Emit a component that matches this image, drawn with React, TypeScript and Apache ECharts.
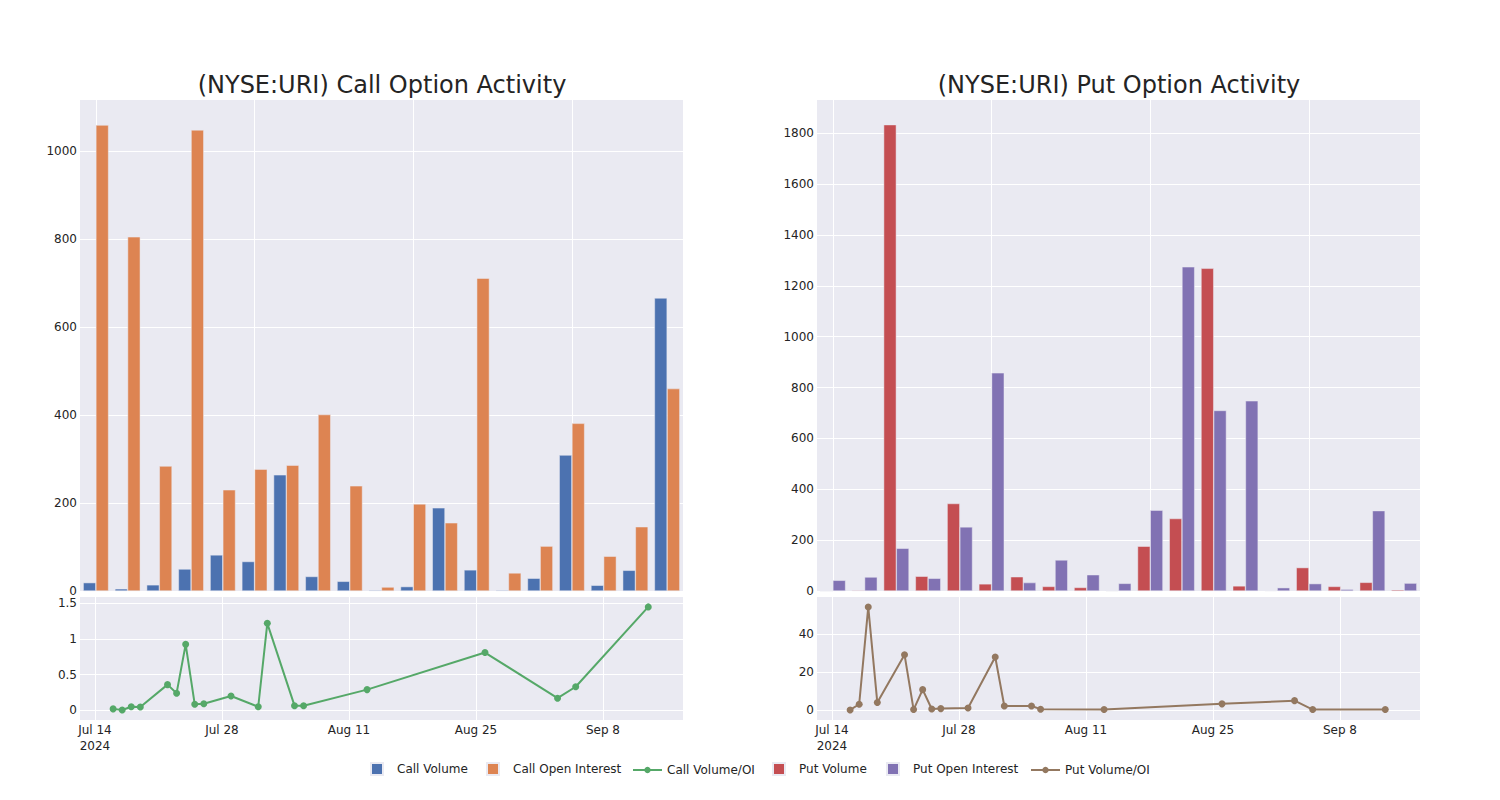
import React, { useEffect, useRef } from 'react';
import * as echarts from 'echarts';

const dates = ['2024-07-16', '2024-07-17', '2024-07-18', '2024-07-19', '2024-07-22', '2024-07-23', '2024-07-24', '2024-07-25', '2024-07-26', '2024-07-29', '2024-08-01', '2024-08-02', '2024-08-05', '2024-08-06', '2024-08-13', '2024-08-26', '2024-09-03', '2024-09-05', '2024-09-13'];
const callVolume = [19, 5, 14, 50, 82, 67, 264, 33, 22, 2, 10, 189, 48, 2, 29, 309, 13, 47, 666];
const callOpenInterest = [1059, 805, 284, 1048, 230, 277, 286, 401, 239, 9, 198, 155, 711, 41, 102, 381, 79, 146, 460];
const callVolOI = [0.02, 0.005, 0.05, 0.047, 0.36, 0.24, 0.925, 0.084, 0.093, 0.2, 0.05, 1.22, 0.065, 0.065, 0.29, 0.81, 0.17, 0.33, 1.45];
const putVolume = [0, 3, 1834, 58, 344, 28, 56, 18, 14, 1, 176, 285, 1269, 20, 2, 92, 18, 34, 5];
const putOpenInterest = [42, 55, 168, 50, 252, 858, 33, 122, 64, 30, 318, 1275, 710, 748, 13, 29, 7, 316, 31];
const putVolOI = [0, 3.0, 54.2, 3.9, 29.1, 0.2, 10.7, 0.5, 0.7, 1.0, 27.9, 2.1, 2.1, 0.4, 0.2, 3.2, 4.9, 0.2, 0.2];

const dateTicks = ['2024-07-14', '2024-07-28', '2024-08-11', '2024-08-25', '2024-09-08'];
const callBarTicks = [0, 200, 400, 600, 800, 1000];
const putBarTicks = [0, 200, 400, 600, 800, 1000, 1200, 1400, 1600, 1800];
const callRatioTicks = [0, 0.5, 1, 1.5];
const putRatioTicks = [0, 20, 40];

const ORIGIN = '2024-07-14';
const DAY = 86400000;
const dayOffset = (s: string) => (Date.parse(s) - Date.parse(ORIGIN)) / DAY;
const MONTHS = ['Jan', 'Feb', 'Mar', 'Apr', 'May', 'Jun', 'Jul', 'Aug', 'Sep', 'Oct', 'Nov', 'Dec'];

const FONT = 'DejaVu Sans';
const TEXT = '#242424';
const BG = '#EAEAF2';
const C_BLUE = '#4C72B0';
const C_ORANGE = '#DD8452';
const C_GREEN = '#55A868';
const C_RED = '#C44E52';
const C_PURPLE = '#8172B3';
const C_BROWN = '#937860';

function dateLabel(v: number) {
  const d = new Date(Date.parse(ORIGIN) + Math.round(v) * DAY);
  const s = MONTHS[d.getUTCMonth()] + ' ' + d.getUTCDate();
  return Math.round(v) === 0 ? s + '\n' + d.getUTCFullYear() : s;
}

export default function App() {
  const ref = useRef<HTMLDivElement>(null);
  useEffect(() => {
    document.body.style.margin = '0';
    if (!ref.current) return;
    const chart = echarts.init(ref.current, undefined, { renderer: 'svg' });

    const dayTicks = dateTicks.map(dayOffset);
    const xMin = -1.65;
    const xMax = 64.83;

    const grids = [
      { left: 80, top: 100, width: 603, height: 491 },
      { left: 80, top: 597, width: 603, height: 123 },
      { left: 817, top: 100, width: 603, height: 491 },
      { left: 817, top: 597, width: 603, height: 123 },
    ].map((g) => ({ ...g, backgroundColor: BG, show: true, borderWidth: 0 }));

    const catAxis = (gridIndex: number) => ({
      type: 'category',
      gridIndex,
      data: dates,
      axisLabel: { show: false },
      axisTick: { show: false, alignWithLabel: true },
      axisLine: { show: false },
      splitLine: { show: true, interval: 4, alignWithLabel: true, lineStyle: { color: '#ffffff', width: 1 } },
    });

    const dateAxis = (gridIndex: number) => ({
      type: 'value',
      gridIndex,
      min: xMin,
      max: xMax,
      axisLine: { show: false },
      axisTick: { show: false, customValues: dayTicks },
      axisLabel: {
        customValues: dayTicks,
        formatter: (v: number) => dateLabel(v),
        fontFamily: FONT,
        fontSize: 12,
        color: TEXT,
        margin: 2,
        lineHeight: 16,
      },
      splitLine: { show: true, lineStyle: { color: '#ffffff', width: 1 } },
    });

    const valAxis = (gridIndex: number, min: number, max: number, ticks: number[]) => ({
      type: 'value',
      gridIndex,
      min,
      max,
      axisLine: { show: false },
      axisTick: { show: false, customValues: ticks },
      axisLabel: {
        customValues: ticks,
        formatter: (v: number) => String(v),
        fontFamily: FONT,
        fontSize: 12,
        color: TEXT,
        margin: 3,
      },
      splitLine: { show: true, lineStyle: { color: '#ffffff', width: 1 } },
    });

    const barStyle = (color: string) => ({ color, borderColor: BG, borderWidth: 0.5 });

    const legendBase = {
      top: 762,
      padding: 0,
      orient: 'horizontal',
      selectedMode: false,
      itemGap: 0,
      textStyle: { fontFamily: FONT, fontSize: 12, color: TEXT },
    };
    const squareLegend = (name: string, left: number) => ({
      ...legendBase,
      left,
      itemWidth: 12,
      itemHeight: 12,
      data: [{ name, icon: 'rect' }],
      textStyle: { ...legendBase.textStyle, padding: [0, 0, 0, 9] },
    });
    const lineLegend = (name: string, left: number) => ({
      ...legendBase,
      top: 764,
      left,
      itemWidth: 29,
      itemHeight: 8,
      data: [{ name }],
    });

    const option: any = {
      animation: false,
      backgroundColor: '#ffffff',
      textStyle: { fontFamily: FONT },
      title: [
        {
          text: '(NYSE:URI) Call Option Activity',
          left: 377,
          top: 68,
          textAlign: 'center',
          textStyle: { fontFamily: FONT, fontSize: 24, fontWeight: 'normal', color: TEXT },
        },
        {
          text: '(NYSE:URI) Put Option Activity',
          left: 1114,
          top: 68,
          textAlign: 'center',
          textStyle: { fontFamily: FONT, fontSize: 24, fontWeight: 'normal', color: TEXT },
        },
      ],
      legend: [
        squareLegend('Call Volume', 370),
        squareLegend('Call Open Interest', 486),
        lineLegend('Call Volume/OI', 632),
        squareLegend('Put Volume', 772),
        squareLegend('Put Open Interest', 886),
        lineLegend('Put Volume/OI', 1030),
      ],
      grid: grids,
      xAxis: [catAxis(0), dateAxis(1), catAxis(2), dateAxis(3)],
      yAxis: [
        valAxis(0, 0, 1116, callBarTicks),
        valAxis(1, -0.136, 1.589, callRatioTicks),
        valAxis(2, 0, 1931, putBarTicks),
        valAxis(3, -5.3, 59.5, putRatioTicks),
      ],
      series: [
        {
          name: 'Call Volume',
          type: 'bar',
          xAxisIndex: 0,
          yAxisIndex: 0,
          data: callVolume,
          barGap: '0%',
          barCategoryGap: '20%',
          itemStyle: barStyle(C_BLUE),
        },
        {
          name: 'Call Open Interest',
          type: 'bar',
          xAxisIndex: 0,
          yAxisIndex: 0,
          data: callOpenInterest,
          barGap: '0%',
          barCategoryGap: '20%',
          itemStyle: barStyle(C_ORANGE),
        },
        {
          name: 'Call Volume/OI',
          type: 'line',
          xAxisIndex: 1,
          yAxisIndex: 1,
          data: dates.map((d, i) => [dayOffset(d), callVolOI[i]]),
          symbol: 'circle',
          symbolSize: 7,
          lineStyle: { color: C_GREEN, width: 2 },
          itemStyle: { color: C_GREEN },
        },
        {
          name: 'Put Volume',
          type: 'bar',
          xAxisIndex: 2,
          yAxisIndex: 2,
          data: putVolume,
          barGap: '0%',
          barCategoryGap: '20%',
          itemStyle: barStyle(C_RED),
        },
        {
          name: 'Put Open Interest',
          type: 'bar',
          xAxisIndex: 2,
          yAxisIndex: 2,
          data: putOpenInterest,
          barGap: '0%',
          barCategoryGap: '20%',
          itemStyle: barStyle(C_PURPLE),
        },
        {
          name: 'Put Volume/OI',
          type: 'line',
          xAxisIndex: 3,
          yAxisIndex: 3,
          data: dates.map((d, i) => [dayOffset(d), putVolOI[i]]),
          symbol: 'circle',
          symbolSize: 7,
          lineStyle: { color: C_BROWN, width: 2 },
          itemStyle: { color: C_BROWN },
        },
      ],
    };
    chart.setOption(option);
    return () => chart.dispose();
  }, []);
  return <div ref={ref} style={{ width: 1500, height: 800 }} />;
}
